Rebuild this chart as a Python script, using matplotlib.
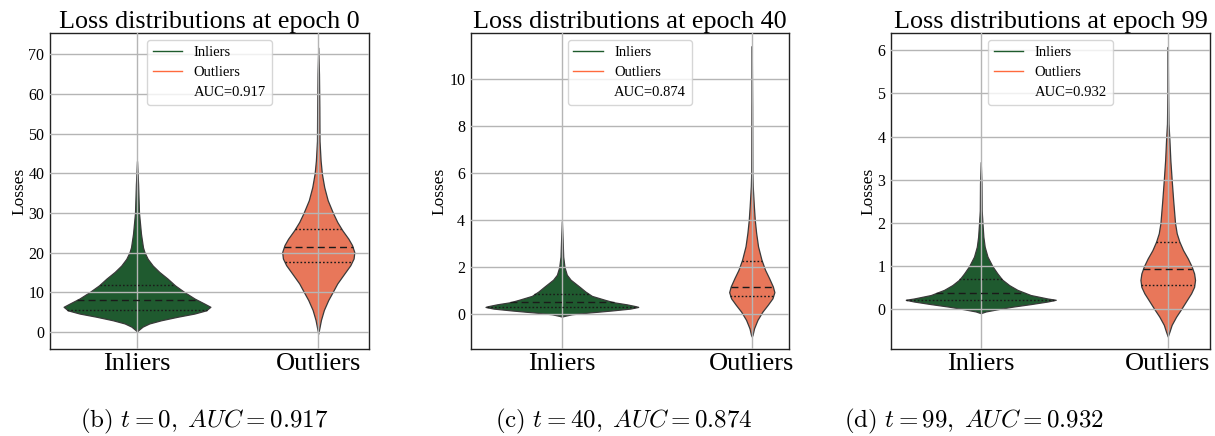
import numpy as np
import matplotlib
matplotlib.use("Agg")
import matplotlib.pyplot as plt
from matplotlib.lines import Line2D

plt.rcParams['font.family'] = ['Liberation Serif', 'DejaVu Serif']
plt.rcParams['mathtext.fontset'] = 'cm'

# ---------------- data ----------------
categories = ["Inliers", "Outliers"]
epochs = [0, 40, 99]
auc_values = ["0.917", "0.874", "0.932"]
panel_letters = ["b", "c", "d"]

# violin outlines: loss value -> half width (x data units)
inl0_y = [43.1, 37.2, 30.0, 24.7, 21.3, 20.1, 18.4, 16.7, 15.1, 13.4, 11.7, 10.0, 8.4, 7.1, 6.3,
          5.4, 4.6, 3.8, 2.9, 2.1, 1.3, 0.4, 0.0]
inl0_w = [0.000, 0.006, 0.011, 0.022, 0.033, 0.041, 0.059, 0.087, 0.123, 0.169, 0.210, 0.262, 0.317, 0.372, 0.405,
          0.381, 0.317, 0.225, 0.133, 0.068, 0.031, 0.007, 0.000]
out0_y = [71.7, 65.0, 56.6, 48.2, 43.2, 39.9, 36.5, 33.2, 30.0, 27.7, 25.6, 23.5, 21.9, 20.1, 18.5,
          16.8, 14.7, 12.2, 10.0, 8.0, 5.5, 3.0, 0.9, -0.5]
out0_w = [0.000, 0.004, 0.006, 0.007, 0.013, 0.020, 0.033, 0.052, 0.081, 0.105, 0.133, 0.166, 0.186, 0.199, 0.195,
          0.177, 0.144, 0.105, 0.079, 0.055, 0.031, 0.015, 0.006, 0.000]

inl40_y = [3.96, 3.17, 2.45, 2.0, 1.68, 1.47, 1.15, 0.97, 0.78, 0.61, 0.51, 0.42, 0.34, 0.31,
           0.24, 0.16, 0.07, 0.0, -0.07, -0.1]
inl40_w = [0.000, 0.004, 0.007, 0.014, 0.026, 0.046, 0.096, 0.123, 0.158, 0.228, 0.272, 0.342, 0.390, 0.402,
           0.360, 0.263, 0.140, 0.053, 0.014, 0.000]
out40_y = [11.42, 8.86, 6.02, 5.45, 4.6, 4.0, 3.46, 2.89, 2.32, 1.89, 1.54, 1.18, 0.94, 0.68, 0.40,
           0.11, -0.24, -0.6, -0.88, -0.95]
out40_w = [0.000, 0.002, 0.003, 0.005, 0.011, 0.016, 0.023, 0.033, 0.051, 0.070, 0.091, 0.111, 0.119, 0.109, 0.084,
           0.056, 0.030, 0.012, 0.004, 0.000]

inl99_y = [3.41, 2.91, 2.29, 2.0, 1.68, 1.45, 1.22, 1.0, 0.83, 0.69, 0.56, 0.45, 0.33, 0.25, 0.22,
           0.18, 0.12, 0.06, 0.0, -0.05, -0.09]
inl99_w = [0.000, 0.004, 0.005, 0.009, 0.014, 0.021, 0.036, 0.062, 0.089, 0.114, 0.152, 0.196, 0.267, 0.357, 0.401,
           0.357, 0.267, 0.169, 0.089, 0.027, 0.000]
out99_y = [6.08, 5.0, 4.3, 3.92, 3.45, 3.0, 2.53, 2.0, 1.76, 1.57, 1.37, 1.18, 0.99, 0.83, 0.68,
           0.52, 0.37, 0.22, 0.0, -0.17, -0.36, -0.52, -0.63]
out99_w = [0.000, 0.002, 0.004, 0.009, 0.014, 0.021, 0.029, 0.039, 0.048, 0.062, 0.082, 0.107, 0.128, 0.141, 0.146,
           0.141, 0.125, 0.103, 0.071, 0.045, 0.021, 0.009, 0.000]

# quartiles (Q1, median, Q3)
inl0_q = [5.6, 8.1, 11.9]
out0_q = [17.6, 21.3, 26.0]
inl40_q = [0.30, 0.51, 0.85]
out40_q = [0.78, 1.18, 2.25]
inl99_q = [0.22, 0.38, 0.69]
out99_q = [0.57, 0.94, 1.57]

y_ticks = [list(range(0, 71, 10)), list(range(0, 11, 2)), list(range(0, 7, 1))]

# ---------------- styling ----------------
fill_colors = ["#1f5a2f", "#e8775a"]
legend_colors = ["#1e5b2c", "#ff6a3d"]
edge_color = "#3a3a3a"

axes_rects = [
    [50 / 1215, 87 / 436, 319 / 1215, 316 / 436],
    [470.7 / 1215, 87 / 436, 318.3 / 1215, 316 / 436],
    [891 / 1215, 87 / 436, 319 / 1215, 316 / 436],
]
xlims = [(-0.48, 1.28), (-0.48, 1.196), (-0.48, 1.226)]
ylims = [(-4.35, 75.4), (-1.48, 11.97), (-0.92, 6.4)]
caption_x = [204 / 1215, 624 / 1215, 974 / 1215]

panels = [
    [(inl0_y, inl0_w, inl0_q), (out0_y, out0_w, out0_q)],
    [(inl40_y, inl40_w, inl40_q), (out40_y, out40_w, out40_q)],
    [(inl99_y, inl99_w, inl99_q), (out99_y, out99_w, out99_q)],
]

fig = plt.figure(figsize=(12.15, 4.36), dpi=100)

for i, rect in enumerate(axes_rects):
    ax = fig.add_axes(rect)
    for pos, (vy, vw, q) in enumerate(panels[i]):
        vy = np.asarray(vy, float)
        vw = np.asarray(vw, float)
        ax.fill_betweenx(vy, pos - vw, pos + vw, facecolor=fill_colors[pos],
                         edgecolor=edge_color, linewidth=0.9, zorder=1)
        order = np.argsort(vy)
        for k, qv in enumerate(q):
            hw = np.interp(qv, vy[order], vw[order])
            ls = (0, (5, 3)) if k == 1 else (0, (1.2, 1.5))
            ax.plot([pos - hw, pos + hw], [qv, qv], color="#1a1a1a",
                    linestyle=ls, linewidth=1.0, zorder=3)
    ax.set_xlim(*xlims[i])
    ax.set_ylim(*ylims[i])
    ax.set_xticks([0, 1])
    ax.set_xticklabels(categories, fontsize=19)
    ax.set_yticks(y_ticks[i])
    ax.tick_params(axis='y', labelsize=11.5, length=0, pad=4)
    ax.tick_params(axis='x', length=0, pad=3)
    ax.grid(True, color="#b5b5b5", linewidth=1.0, zorder=2.5)
    ax.set_axisbelow(False)
    for sp in ax.spines.values():
        sp.set_linewidth(1.0)
        sp.set_color("#222222")
    ax.set_ylabel("Losses", fontsize=12.5, labelpad=1)
    ax.set_title(f"Loss distributions at epoch {epochs[i]}", fontsize=18.8, pad=2)
    handles = [Line2D([], [], color=legend_colors[0], lw=1.0),
               Line2D([], [], color=legend_colors[1], lw=1.0),
               Line2D([], [], color='none', lw=1.0)]
    ax.legend(handles, ["Inliers", "Outliers", f"AUC={auc_values[i]}"],
              loc="upper center", fontsize=10.5, labelspacing=0.45)
    fig.text(caption_x[i], 15 / 436,
             rf"$\mathrm{{({panel_letters[i]})}}\ t = {epochs[i]},\;AUC = {auc_values[i]}$",
             ha="center", va="center", fontsize=18)

fig.savefig("out.png", dpi=100)
